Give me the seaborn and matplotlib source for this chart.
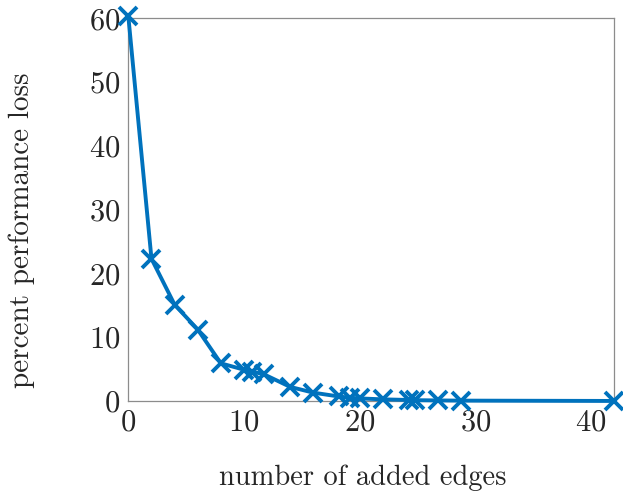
import matplotlib
matplotlib.use('Agg')
import matplotlib.pyplot as plt
import seaborn as sns
import pandas as pd

# values
added_edges = [0, 2, 4, 6, 8, 10, 10.7, 11.7, 14, 16, 18.2, 19.2, 20, 22,
               24.3, 24.8, 26.8, 28.8, 42]
perf_loss = [60.3, 22.3, 15.1, 11.2, 5.9, 4.9, 4.6, 4.2, 2.2, 1.3, 0.7, 0.5,
             0.4, 0.25, 0.15, 0.12, 0.08, 0.05, 0.0]
x_ticks = [0, 10, 20, 30, 40]
y_ticks = [0, 10, 20, 30, 40, 50, 60]

sns.set_style('white')
plt.rcParams['font.family'] = 'serif'
plt.rcParams['font.serif'] = ['cmr10', 'DejaVu Serif']
plt.rcParams['mathtext.fontset'] = 'cm'
plt.rcParams['axes.formatter.use_mathtext'] = True

df = pd.DataFrame({'edges': added_edges, 'loss': perf_loss})

fig = plt.figure(figsize=(6.23, 4.95), dpi=100)
ax = fig.add_axes([0.206, 0.190, 0.7796, 0.773])

blue = '#0072BD'
sns.lineplot(data=df, x='edges', y='loss', ax=ax, color=blue,
             linewidth=2.8, marker='x', markersize=13, markeredgewidth=2.8,
             markeredgecolor=blue, markerfacecolor=blue,
             clip_on=False, zorder=5)

ax.set_xlim(0, 42)
ax.set_ylim(0, 60)
ax.set_xticks(x_ticks)
ax.set_yticks(y_ticks)
ax.tick_params(direction='in', length=4, width=0.8, color='#262626',
               labelsize=22, labelcolor='#262626', pad=6)

for side in ax.spines.values():
    side.set_color('#8c8c8c')
    side.set_linewidth(0.9)

ax.set_xlabel('number of added edges', fontsize=20.5, va='center')
ax.set_ylabel('percent performance loss', fontsize=21, va='center')
ax.xaxis.set_label_coords(0.483, -0.201)
ax.yaxis.set_label_coords(-0.219, 0.447)

plt.savefig('out.png', dpi=100)
plt.close()
